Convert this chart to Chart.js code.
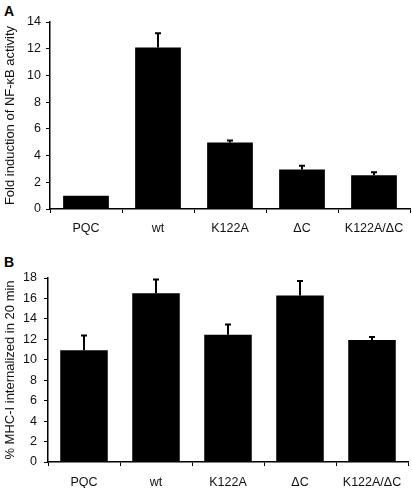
<!DOCTYPE html>
<html>
<head>
<meta charset="utf-8">
<script src="https://cdn.jsdelivr.net/npm/chart.js@4/dist/chart.umd.min.js"></script>
<style>
  html, body { margin: 0; padding: 0; background: #fff; }
  #wrap { position: relative; width: 412px; height: 488px; overflow: hidden; font-family: "Liberation Sans", Arial, sans-serif; }
  .cv { position: absolute; left: 0; }
  .plabel { position: absolute; left: 4px; font-weight: bold; font-size: 14px; color: #000; }
</style>
</head>
<body>
<div id="wrap">
  <div class="plabel" style="top:3px;">A</div>
  <div class="plabel" style="top:254px;">B</div>
  <canvas id="cA" class="cv" style="top:0px;" width="412" height="244"></canvas>
  <canvas id="cB" class="cv" style="top:248px;" width="412" height="240"></canvas>
</div>
<script>
const categories = ["PQC", "wt", "K122A", "\u0394C", "K122A/\u0394C"];
const nfkbValues = [1.0, 12.1, 4.98, 2.95, 2.53];
const nfkbErrors = [0.0, 1.05, 0.15, 0.28, 0.23];
const mhcValues = [10.93, 16.5, 12.46, 16.3, 11.94];
const mhcErrors = [1.44, 1.35, 0.98, 1.4, 0.29];
const yTicksA = [0, 2, 4, 6, 8, 10, 12, 14];
const yTicksB = [0, 2, 4, 6, 8, 10, 12, 14, 16, 18];

const errorBarPlugin = {
  id: 'errorBars',
  afterDatasetsDraw(chart) {
    const ctx = chart.ctx;
    const yScale = chart.scales.y;
    const meta = chart.getDatasetMeta(0);
    const ds = chart.data.datasets[0];
    const errs = ds.errors || [];
    ctx.save();
    ctx.strokeStyle = '#000';
    ctx.lineWidth = 2;
    meta.data.forEach((bar, i) => {
      const e = errs[i];
      if (!e) return;
      const v = ds.data[i];
      const x = bar.x;
      const yTop = yScale.getPixelForValue(v + e);
      const yBase = yScale.getPixelForValue(v);
      ctx.beginPath();
      ctx.moveTo(x, yBase);
      ctx.lineTo(x, yTop);
      ctx.moveTo(x - 3, yTop);
      ctx.lineTo(x + 3, yTop);
      ctx.stroke();
    });
    ctx.restore();
  }
};

function makeChart(id, values, errors, ticks, maxV, title, cfg) {
  return new Chart(document.getElementById(id), {
    type: 'bar',
    data: {
      labels: categories,
      datasets: [{
        data: values,
        errors: errors,
        backgroundColor: '#000',
        borderWidth: 0,
        barPercentage: cfg.barPct,
        categoryPercentage: 1.0
      }]
    },
    options: {
      responsive: false,
      animation: false,
      devicePixelRatio: 1,
      layout: { padding: { top: cfg.top, right: cfg.right, left: 0, bottom: 0 } },
      plugins: { legend: { display: false }, tooltip: { enabled: false } },
      scales: {
        x: {
          offset: true,
          grid: { display: true, offset: true, drawOnChartArea: false, drawTicks: true, tickLength: 4, color: '#000', lineWidth: 1 },
          border: { display: true, color: '#000', width: 1.5 },
          ticks: { color: '#111', font: { family: 'Liberation Sans', size: 12.5 }, padding: cfg.xPad, maxRotation: 0, autoSkip: false },
          afterFit(s) { s.height = cfg.xH; }
        },
        y: {
          min: 0, max: maxV,
          afterBuildTicks(s) { s.ticks = ticks.map(v => ({ value: v })); },
          grid: { display: true, drawOnChartArea: false, drawTicks: true, tickLength: 4, color: '#000', lineWidth: 1 },
          border: { display: true, color: '#000', width: 1.5 },
          ticks: { color: '#111', font: { family: 'Liberation Sans', size: 12.5 }, padding: cfg.yPad },
          title: { display: true, text: title, color: '#111', font: { family: 'Liberation Sans', size: 13 }, padding: { top: 3, bottom: 0 } },
          afterFit(s) { s.width = cfg.yW; }
        }
      }
    },
    plugins: [errorBarPlugin]
  });
}

makeChart('cA', nfkbValues, nfkbErrors, yTicksA, 14, 'Fold induction of NF-\u03BAB activity',
  { top: 22, right: 2, xH: 35, xPad: 8, yPad: 5, yW: 50, barPct: 0.635 });
makeChart('cB', mhcValues, mhcErrors, yTicksB, 18, '% MHC-I internalized in 20 min',
  { top: 30, right: 4, xH: 26, xPad: 9, yPad: 7, yW: 48, barPct: 0.66 });
</script>
</body>
</html>
